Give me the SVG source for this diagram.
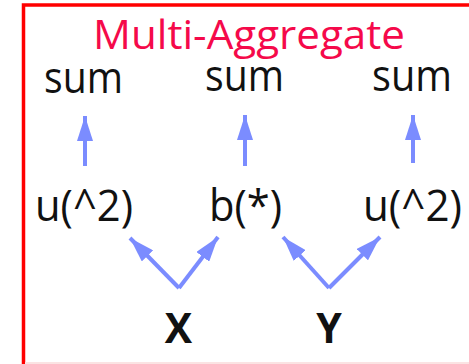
<svg xmlns="http://www.w3.org/2000/svg" width="469" height="364" viewBox="0 0 469 364">
<defs>
<marker id="ah" markerUnits="userSpaceOnUse" markerWidth="26" markerHeight="16" refX="25" refY="8" orient="auto">
<path d="M0,0 L25,8 L0,16 Z" fill="#7b8cff"/>
</marker>
<style>
.lbl{font-family:"Open Sans","Noto Sans",sans-serif;font-size:43px;fill:#111}
.var{font-family:"Open Sans","Noto Sans",sans-serif;font-size:41px;font-weight:bold;fill:#111}
.edge{stroke:#7b8cff;stroke-width:4;fill:none;marker-end:url(#ah)}
</style>
</defs>
<rect x="0" y="0" width="469" height="364" fill="#fff"/>
<rect x="23.5" y="5" width="470" height="380" fill="none" stroke="#ff0000" stroke-width="3.5"/>
<line x1="25" y1="363" x2="469" y2="363" stroke="#fbe3e3" stroke-width="2"/>
<text x="93" y="49" font-family="'Open Sans','Noto Sans',sans-serif" font-size="41" fill="#f5094a" textLength="312" lengthAdjust="spacingAndGlyphs">Multi-Aggregate</text>
<g id="sum1"><text class="lbl" x="44" y="93" textLength="79" lengthAdjust="spacingAndGlyphs">sum</text></g>
<g id="sum2"><text class="lbl" x="205" y="91" textLength="79" lengthAdjust="spacingAndGlyphs">sum</text></g>
<g id="sum3"><text class="lbl" x="372" y="91" textLength="80" lengthAdjust="spacingAndGlyphs">sum</text></g>
<g id="u1"><text class="lbl" x="35" y="221" textLength="98" lengthAdjust="spacingAndGlyphs">u(^2)</text></g>
<g id="b"><text class="lbl" x="209" y="221" textLength="73" lengthAdjust="spacingAndGlyphs">b(*)</text></g>
<g id="u2"><text class="lbl" x="363" y="221" textLength="99" lengthAdjust="spacingAndGlyphs">u(^2)</text></g>
<g id="X"><text class="var" x="178.5" y="343" text-anchor="middle">X</text></g>
<g id="Y"><text class="var" x="329" y="343" text-anchor="middle">Y</text></g>
<g id="connectors">
<line class="edge" x1="85" y1="166" x2="85" y2="116"/>
<line class="edge" x1="245" y1="166" x2="245" y2="115"/>
<line class="edge" x1="413" y1="163" x2="413" y2="115"/>
<line class="edge" x1="179" y1="288" x2="130" y2="238"/>
<line class="edge" x1="179" y1="288" x2="218" y2="237"/>
<line class="edge" x1="329" y1="288" x2="283" y2="237"/>
<line class="edge" x1="329" y1="288" x2="380" y2="237"/>
</g>
</svg>
